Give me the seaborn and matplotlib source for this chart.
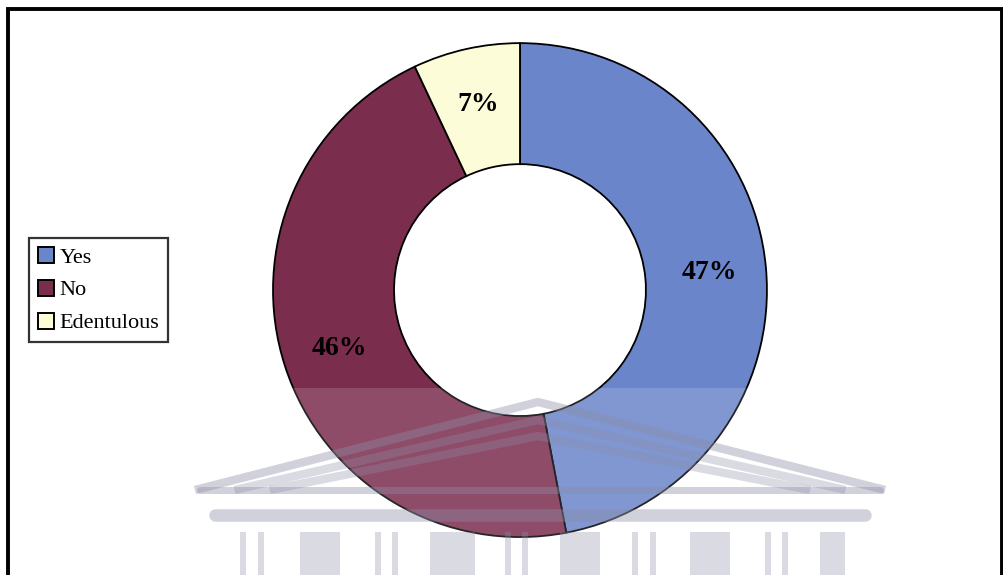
import matplotlib
matplotlib.use("Agg")
import matplotlib.pyplot as plt
import seaborn as sns
from matplotlib.patches import Rectangle

# Data
labels = ["Yes", "No", "Edentulous"]
shares = [47, 46, 7]
colors = ["#6a85c9", "#7b2d4e", "#fdfcd9"]

sns.set_theme(style="white")
plt.rcParams["font.family"] = ["Liberation Serif", "DejaVu Serif"]
plt.rcParams["text.color"] = "black"

fig = plt.figure(figsize=(10.04, 5.75), dpi=100)
fig.patch.set_facecolor("white")

# Donut
ax = fig.add_axes([0.2719, 0.066, 0.492, 0.859])
wedges, texts, autotexts = ax.pie(
    shares,
    colors=colors,
    startangle=90,
    counterclock=False,
    autopct="%d%%",
    pctdistance=0.77,
    wedgeprops=dict(width=0.49, edgecolor="black", linewidth=1.3),
    textprops=dict(fontsize=20, fontweight="bold", color="black"),
)
ax.set_xlim(-1.0, 1.0)
ax.set_ylim(-1.0, 1.0)
ax.axis("off")

# Legend
leg = fig.legend(
    wedges, labels,
    loc="upper left", bbox_to_anchor=(0.029, 1 - 238 / 575),
    frameon=True, fancybox=False, shadow=False,
    fontsize=16, handlelength=0.72, handleheight=0.72,
    handletextpad=0.25, labelspacing=0.55, borderpad=0.4,
    borderaxespad=0.0, labelcolor="black",
)
leg.get_frame().set_edgecolor("black")
leg.get_frame().set_linewidth(1.6)
for h in leg.legend_handles:
    h.set_edgecolor("black")
    h.set_linewidth(1.4)

# Faint watermark overlay (pixel coordinates of the figure)
wm = fig.add_axes([0, 0, 1, 1], zorder=3)
wm.set_xlim(0, 1004)
wm.set_ylim(575, 0)
wm.axis("off")
wm.patch.set_alpha(0)
wm.add_patch(Rectangle((0, 388), 1004, 187, facecolor="white", alpha=0.15, lw=0))
gc = "#8c8ca8"
for off in [0, 18, 34]:
    wm.plot([195 + off * 2.2, 538, 885 - off * 2.2],
            [490, 402 + off, 490], color=gc, alpha=0.4 if off == 0 else 0.32,
            lw=6, solid_capstyle="butt")
wm.plot([200, 880], [490, 490], color=gc, alpha=0.4, lw=5)
wm.plot([215, 865], [515, 515], color=gc, alpha=0.4, lw=9)
for x, w in [(240, 6), (258, 6), (300, 40), (375, 6), (392, 6), (430, 45),
             (505, 6), (522, 6), (560, 40), (632, 6), (650, 6), (690, 40),
             (765, 6), (782, 6), (820, 25)]:
    wm.add_patch(Rectangle((x, 532), w, 50, facecolor=gc, alpha=0.32, lw=0))

# Outer frame
fig.add_artist(Rectangle((8 / 1004, -0.05), (1002 - 8) / 1004, 1 - 9 / 575 + 0.05,
                         transform=fig.transFigure, fill=False,
                         edgecolor="black", linewidth=2.8, zorder=10))

fig.savefig("out.png", dpi=100)
